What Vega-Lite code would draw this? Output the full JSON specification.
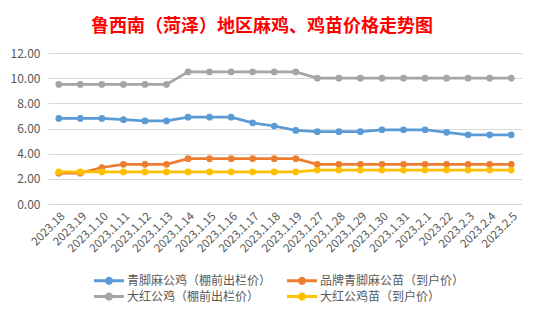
{
  "$schema": "https://vega.github.io/schema/vega-lite/v6.json",
  "width": 474,
  "height": 151,
  "autosize": {"type": "none"},
  "padding": {"left": 48, "top": 53, "right": 19, "bottom": 117},
  "background": "white",
  "title": {
    "text": "鲁西南（菏泽）地区麻鸡、鸡苗价格走势图",
    "font": "Noto Sans CJK SC",
    "fontSize": 18,
    "fontWeight": "bold",
    "color": "#FF0000",
    "anchor": "middle",
    "dx": -23,
    "offset": 11
  },
  "config": {
    "view": {"stroke": null},
    "font": "Noto Sans CJK SC"
  },
  "datasets": {
    "d": [
      {"date": "2023.18", "idx": 1, "s": "青脚麻公鸡（棚前出栏价）", "v": 6.8},
      {"date": "2023.19", "idx": 2, "s": "青脚麻公鸡（棚前出栏价）", "v": 6.8},
      {"date": "2023.1.10", "idx": 3, "s": "青脚麻公鸡（棚前出栏价）", "v": 6.8},
      {"date": "2023.1.11", "idx": 4, "s": "青脚麻公鸡（棚前出栏价）", "v": 6.7},
      {"date": "2023.1.12", "idx": 5, "s": "青脚麻公鸡（棚前出栏价）", "v": 6.6},
      {"date": "2023.1.13", "idx": 6, "s": "青脚麻公鸡（棚前出栏价）", "v": 6.6},
      {"date": "2023.1.14", "idx": 7, "s": "青脚麻公鸡（棚前出栏价）", "v": 6.9},
      {"date": "2023.1.15", "idx": 8, "s": "青脚麻公鸡（棚前出栏价）", "v": 6.9},
      {"date": "2023.1.16", "idx": 9, "s": "青脚麻公鸡（棚前出栏价）", "v": 6.9},
      {"date": "2023.1.17", "idx": 10, "s": "青脚麻公鸡（棚前出栏价）", "v": 6.45},
      {"date": "2023.1.18", "idx": 11, "s": "青脚麻公鸡（棚前出栏价）", "v": 6.2},
      {"date": "2023.1.19", "idx": 12, "s": "青脚麻公鸡（棚前出栏价）", "v": 5.85},
      {"date": "2023.1.27", "idx": 13, "s": "青脚麻公鸡（棚前出栏价）", "v": 5.75},
      {"date": "2023.1.28", "idx": 14, "s": "青脚麻公鸡（棚前出栏价）", "v": 5.75},
      {"date": "2023.1.29", "idx": 15, "s": "青脚麻公鸡（棚前出栏价）", "v": 5.75},
      {"date": "2023.1.30", "idx": 16, "s": "青脚麻公鸡（棚前出栏价）", "v": 5.9},
      {"date": "2023.1.31", "idx": 17, "s": "青脚麻公鸡（棚前出栏价）", "v": 5.9},
      {"date": "2023.2.1", "idx": 18, "s": "青脚麻公鸡（棚前出栏价）", "v": 5.9},
      {"date": "2023.22", "idx": 19, "s": "青脚麻公鸡（棚前出栏价）", "v": 5.7},
      {"date": "2023.2.3", "idx": 20, "s": "青脚麻公鸡（棚前出栏价）", "v": 5.5},
      {"date": "2023.2.4", "idx": 21, "s": "青脚麻公鸡（棚前出栏价）", "v": 5.5},
      {"date": "2023.2.5", "idx": 22, "s": "青脚麻公鸡（棚前出栏价）", "v": 5.5},

      {"date": "2023.18", "idx": 1, "s": "品牌青脚麻公苗（到户价）", "v": 2.45},
      {"date": "2023.19", "idx": 2, "s": "品牌青脚麻公苗（到户价）", "v": 2.45},
      {"date": "2023.1.10", "idx": 3, "s": "品牌青脚麻公苗（到户价）", "v": 2.9},
      {"date": "2023.1.11", "idx": 4, "s": "品牌青脚麻公苗（到户价）", "v": 3.15},
      {"date": "2023.1.12", "idx": 5, "s": "品牌青脚麻公苗（到户价）", "v": 3.15},
      {"date": "2023.1.13", "idx": 6, "s": "品牌青脚麻公苗（到户价）", "v": 3.15},
      {"date": "2023.1.14", "idx": 7, "s": "品牌青脚麻公苗（到户价）", "v": 3.6},
      {"date": "2023.1.15", "idx": 8, "s": "品牌青脚麻公苗（到户价）", "v": 3.6},
      {"date": "2023.1.16", "idx": 9, "s": "品牌青脚麻公苗（到户价）", "v": 3.6},
      {"date": "2023.1.17", "idx": 10, "s": "品牌青脚麻公苗（到户价）", "v": 3.6},
      {"date": "2023.1.18", "idx": 11, "s": "品牌青脚麻公苗（到户价）", "v": 3.6},
      {"date": "2023.1.19", "idx": 12, "s": "品牌青脚麻公苗（到户价）", "v": 3.6},
      {"date": "2023.1.27", "idx": 13, "s": "品牌青脚麻公苗（到户价）", "v": 3.15},
      {"date": "2023.1.28", "idx": 14, "s": "品牌青脚麻公苗（到户价）", "v": 3.15},
      {"date": "2023.1.29", "idx": 15, "s": "品牌青脚麻公苗（到户价）", "v": 3.15},
      {"date": "2023.1.30", "idx": 16, "s": "品牌青脚麻公苗（到户价）", "v": 3.15},
      {"date": "2023.1.31", "idx": 17, "s": "品牌青脚麻公苗（到户价）", "v": 3.15},
      {"date": "2023.2.1", "idx": 18, "s": "品牌青脚麻公苗（到户价）", "v": 3.15},
      {"date": "2023.22", "idx": 19, "s": "品牌青脚麻公苗（到户价）", "v": 3.15},
      {"date": "2023.2.3", "idx": 20, "s": "品牌青脚麻公苗（到户价）", "v": 3.15},
      {"date": "2023.2.4", "idx": 21, "s": "品牌青脚麻公苗（到户价）", "v": 3.15},
      {"date": "2023.2.5", "idx": 22, "s": "品牌青脚麻公苗（到户价）", "v": 3.15},

      {"date": "2023.18", "idx": 1, "s": "大红公鸡（棚前出栏价）", "v": 9.5},
      {"date": "2023.19", "idx": 2, "s": "大红公鸡（棚前出栏价）", "v": 9.5},
      {"date": "2023.1.10", "idx": 3, "s": "大红公鸡（棚前出栏价）", "v": 9.5},
      {"date": "2023.1.11", "idx": 4, "s": "大红公鸡（棚前出栏价）", "v": 9.5},
      {"date": "2023.1.12", "idx": 5, "s": "大红公鸡（棚前出栏价）", "v": 9.5},
      {"date": "2023.1.13", "idx": 6, "s": "大红公鸡（棚前出栏价）", "v": 9.5},
      {"date": "2023.1.14", "idx": 7, "s": "大红公鸡（棚前出栏价）", "v": 10.5},
      {"date": "2023.1.15", "idx": 8, "s": "大红公鸡（棚前出栏价）", "v": 10.5},
      {"date": "2023.1.16", "idx": 9, "s": "大红公鸡（棚前出栏价）", "v": 10.5},
      {"date": "2023.1.17", "idx": 10, "s": "大红公鸡（棚前出栏价）", "v": 10.5},
      {"date": "2023.1.18", "idx": 11, "s": "大红公鸡（棚前出栏价）", "v": 10.5},
      {"date": "2023.1.19", "idx": 12, "s": "大红公鸡（棚前出栏价）", "v": 10.5},
      {"date": "2023.1.27", "idx": 13, "s": "大红公鸡（棚前出栏价）", "v": 10},
      {"date": "2023.1.28", "idx": 14, "s": "大红公鸡（棚前出栏价）", "v": 10},
      {"date": "2023.1.29", "idx": 15, "s": "大红公鸡（棚前出栏价）", "v": 10},
      {"date": "2023.1.30", "idx": 16, "s": "大红公鸡（棚前出栏价）", "v": 10},
      {"date": "2023.1.31", "idx": 17, "s": "大红公鸡（棚前出栏价）", "v": 10},
      {"date": "2023.2.1", "idx": 18, "s": "大红公鸡（棚前出栏价）", "v": 10},
      {"date": "2023.22", "idx": 19, "s": "大红公鸡（棚前出栏价）", "v": 10},
      {"date": "2023.2.3", "idx": 20, "s": "大红公鸡（棚前出栏价）", "v": 10},
      {"date": "2023.2.4", "idx": 21, "s": "大红公鸡（棚前出栏价）", "v": 10},
      {"date": "2023.2.5", "idx": 22, "s": "大红公鸡（棚前出栏价）", "v": 10},

      {"date": "2023.18", "idx": 1, "s": "大红公鸡苗（到户价）", "v": 2.55},
      {"date": "2023.19", "idx": 2, "s": "大红公鸡苗（到户价）", "v": 2.55},
      {"date": "2023.1.10", "idx": 3, "s": "大红公鸡苗（到户价）", "v": 2.55},
      {"date": "2023.1.11", "idx": 4, "s": "大红公鸡苗（到户价）", "v": 2.55},
      {"date": "2023.1.12", "idx": 5, "s": "大红公鸡苗（到户价）", "v": 2.55},
      {"date": "2023.1.13", "idx": 6, "s": "大红公鸡苗（到户价）", "v": 2.55},
      {"date": "2023.1.14", "idx": 7, "s": "大红公鸡苗（到户价）", "v": 2.55},
      {"date": "2023.1.15", "idx": 8, "s": "大红公鸡苗（到户价）", "v": 2.55},
      {"date": "2023.1.16", "idx": 9, "s": "大红公鸡苗（到户价）", "v": 2.55},
      {"date": "2023.1.17", "idx": 10, "s": "大红公鸡苗（到户价）", "v": 2.55},
      {"date": "2023.1.18", "idx": 11, "s": "大红公鸡苗（到户价）", "v": 2.55},
      {"date": "2023.1.19", "idx": 12, "s": "大红公鸡苗（到户价）", "v": 2.55},
      {"date": "2023.1.27", "idx": 13, "s": "大红公鸡苗（到户价）", "v": 2.7},
      {"date": "2023.1.28", "idx": 14, "s": "大红公鸡苗（到户价）", "v": 2.7},
      {"date": "2023.1.29", "idx": 15, "s": "大红公鸡苗（到户价）", "v": 2.7},
      {"date": "2023.1.30", "idx": 16, "s": "大红公鸡苗（到户价）", "v": 2.7},
      {"date": "2023.1.31", "idx": 17, "s": "大红公鸡苗（到户价）", "v": 2.7},
      {"date": "2023.2.1", "idx": 18, "s": "大红公鸡苗（到户价）", "v": 2.7},
      {"date": "2023.22", "idx": 19, "s": "大红公鸡苗（到户价）", "v": 2.7},
      {"date": "2023.2.3", "idx": 20, "s": "大红公鸡苗（到户价）", "v": 2.7},
      {"date": "2023.2.4", "idx": 21, "s": "大红公鸡苗（到户价）", "v": 2.7},
      {"date": "2023.2.5", "idx": 22, "s": "大红公鸡苗（到户价）", "v": 2.7}
    ]
  },
  "data": {"name": "d"},
  "mark": {"type": "line", "strokeWidth": 2.75, "point": {"filled": true, "size": 45, "opacity": 1}},
  "encoding": {
    "x": {
      "field": "date",
      "type": "ordinal",
      "sort": {"field": "idx"},
      "scale": {"type": "point", "padding": 0.5},
      "axis": {
        "title": null,
        "labelAngle": -45,
        "labelFont": "Noto Sans CJK SC",
        "labelFontSize": 11.5,
        "labelColor": "#595959",
        "ticks": false,
        "domain": false,
        "labelPadding": 6,
        "labelOverlap": false
      }
    },
    "y": {
      "field": "v",
      "type": "quantitative",
      "scale": {"domain": [0, 12], "nice": false},
      "axis": {
        "title": null,
        "values": [0, 2, 4, 6, 8, 10, 12],
        "format": ".2f",
        "labelFont": "Noto Sans CJK SC",
        "labelFontSize": 12,
        "labelColor": "#595959",
        "ticks": false,
        "domain": false,
        "labelPadding": 8,
        "gridColor": "#D9D9D9",
        "gridWidth": 1
      }
    },
    "color": {
      "field": "s",
      "type": "nominal",
      "scale": {
        "domain": ["青脚麻公鸡（棚前出栏价）", "大红公鸡（棚前出栏价）", "品牌青脚麻公苗（到户价）", "大红公鸡苗（到户价）"],
        "range": ["#5B9BD5", "#A5A5A5", "#ED7D31", "#FFC000"]
      },
      "legend": {
        "title": null,
        "orient": "none",
        "legendX": 46,
        "legendY": 220,
        "columns": 2,
        "columnPadding": 15,
        "rowPadding": 2,
        "symbolType": "M-1,-0.2L3,-0.2L3,0.2L-1,0.2Z M1.55,0A0.55,0.55 0 1 1 0.45,0A0.55,0.55 0 1 1 1.55,0Z",
        "symbolSize": 225,
        "symbolStrokeWidth": 0,
        "labelFont": "Noto Sans CJK SC",
        "labelFontSize": 12,
        "labelColor": "#595959",
        "labelOffset": 18
      }
    },
    "order": {"field": "idx"}
  }
}
